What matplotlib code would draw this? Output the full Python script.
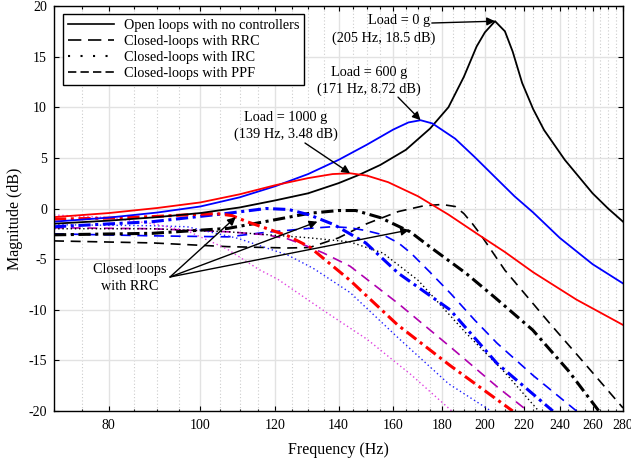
import matplotlib
matplotlib.use("Agg")
import matplotlib.pyplot as plt
from matplotlib.lines import Line2D
from matplotlib.ticker import FixedLocator, NullFormatter

plt.rcParams['font.family'] = ['Liberation Serif', 'DejaVu Serif']

# open loops, no controller
f_ol0 = [70, 80, 90, 100, 110, 120, 130, 140, 147, 155, 165, 175, 183, 190, 196, 200, 205,
         210, 214, 219, 225, 231, 243, 260, 270, 280]
m_ol0 = [-1.5, -1.2, -0.85, -0.45, 0.1, 0.8, 1.5, 2.5, 3.3, 4.3, 5.8, 7.9, 10.0, 13.0, 16.0, 17.4, 18.5,
         17.5, 15.5, 12.4, 9.8, 7.75, 4.8, 1.5, 0.0, -1.3]
f_ol600 = [70, 80, 90, 100, 110, 120, 130, 140, 150, 160, 166, 171, 176, 186, 195, 205,
           215, 225, 240, 260, 280]
m_ol600 = [-1.3, -0.9, -0.4, 0.2, 1.1, 2.2, 3.4, 4.8, 6.3, 7.8, 8.5, 8.72, 8.4, 6.9, 5.1, 3.1,
           1.2, -0.4, -2.9, -5.5, -7.4]
f_ol1000 = [70, 80, 90, 100, 110, 120, 130, 138, 144, 150, 158, 170, 183, 197, 210, 225, 250, 280]
m_ol1000 = [-0.85, -0.45, 0.05, 0.6, 1.4, 2.3, 3.0, 3.4, 3.48, 3.25, 2.6, 1.2, -0.6, -2.6, -4.3,
            -6.3, -9.0, -11.5]

# closed loops with RRC
f_rrc0 = [70, 89, 107, 117, 130.5, 140, 146, 155, 166.7, 175, 191, 205, 224.7, 245, 264]
m_rrc0 = [-2.6, -2.45, -1.96, -1.3, -0.47, -0.2, -0.2, -0.9, -2.3, -3.8, -6.4, -8.8, -12.0, -16.0, -20.0]
f_rrc600 = [70, 89, 107, 117.4, 124, 130.5, 138.5, 149.6, 162, 183.7, 206, 236]
m_rrc600 = [-1.8, -1.3, -0.47, 0.0, -0.1, -0.64, -1.6, -3.4, -6.4, -10.0, -15.3, -20.0]
f_rrc1000 = [70, 80, 89, 98, 104, 108, 112, 117.4, 123.7, 130.5, 144, 161.7, 183.7, 214]
m_rrc1000 = [-1.05, -0.95, -0.8, -0.6, -0.5, -0.7, -1.3, -1.96, -2.7, -3.8, -7.1, -11.5, -15.5, -20.0]

# closed loops with IRC
f_irc0 = [70, 89, 107, 130.5, 144, 156, 170, 191, 210, 228]
m_irc0 = [-2.0, -2.0, -2.3, -2.9, -3.3, -4.4, -7.1, -12.3, -16.2, -20.0]
f_irc600 = [70, 89, 96.8, 109.6, 123.7, 131.6, 144, 162, 183, 203]
m_irc600 = [-1.6, -1.7, -1.8, -2.95, -4.6, -5.9, -8.3, -12.8, -17.3, -20.0]
f_irc1000 = [70, 80, 89, 96.8, 106.7, 115.2, 120.8, 135.6, 150, 167, 184.5]
m_irc1000 = [-0.64, -0.9, -1.5, -2.2, -4.0, -6.0, -7.0, -10.2, -12.9, -16.4, -20.0]

# closed loops with PPF
f_ppf0 = [70, 89, 107, 123.7, 130.5, 140, 150, 162, 172, 180, 186, 190, 194, 198, 210, 234, 255, 280]
m_ppf0 = [-3.2, -3.4, -3.77, -3.9, -3.85, -2.9, -1.5, -0.3, 0.25, 0.4, 0.2, -0.5, -1.5, -2.6, -6.1,
          -11.3, -15.3, -19.7]
f_ppf600 = [70, 89, 107, 117.4, 130.5, 138, 144, 150, 156, 162, 167, 175, 184, 195, 206, 225, 250]
m_ppf600 = [-2.5, -2.7, -2.8, -2.35, -1.96, -1.8, -1.9, -2.2, -2.6, -3.4, -4.4, -6.3, -8.4, -11.0,
            -13.3, -16.5, -20.0]
f_ppf1000 = [70, 89, 107, 117.4, 123.7, 128, 135, 144, 162, 184, 206, 222]
m_ppf1000 = [-1.9, -2.0, -2.3, -2.6, -3.0, -3.5, -4.4, -5.7, -9.4, -13.7, -17.6, -20.0]

x_major = [80, 100, 120, 140, 160, 180, 200, 220, 240, 260, 280]
x_minor = [70, 75, 85, 90, 95, 105, 110, 115, 125, 130, 135, 145, 150, 155, 165, 170, 175,
           185, 190, 195, 205, 210, 215, 225, 230, 235, 245, 250, 255, 265, 270, 275]
y_major = [-20, -15, -10, -5, 0, 5, 10, 15, 20]

legend_labels = ['Open loops with no controllers', 'Closed-loops with RRC',
                 'Closed-loops with IRC', 'Closed-loops with PPF']

fig = plt.figure(figsize=(6.31, 4.62), dpi=100)
ax = fig.add_axes([54 / 631, 1 - 411 / 462, 569 / 631, 405 / 462])
ax.set_xscale('log')

# PPF (dashed)
ax.plot(f_ppf0, m_ppf0, color='k', lw=1.2, dashes=(6, 4))
ax.plot(f_ppf600, m_ppf600, color='#0000ff', lw=1.2, dashes=(6, 4))
ax.plot(f_ppf1000, m_ppf1000, color='#b000b0', lw=1.2, dashes=(6, 4))
# IRC (dotted)
ax.plot(f_irc0, m_irc0, color='k', lw=1.0, dashes=(1, 2))
ax.plot(f_irc600, m_irc600, color='#2020ff', lw=1.0, dashes=(1, 2))
ax.plot(f_irc1000, m_irc1000, color='#e040e0', lw=1.0, dashes=(1, 2))
# RRC (thick dash-dot)
ax.plot(f_rrc0, m_rrc0, color='k', lw=2.2, dashes=(4, 1.5, 1, 1.5))
ax.plot(f_rrc600, m_rrc600, color='#0000ff', lw=2.2, dashes=(4, 1.5, 1, 1.5))
ax.plot(f_rrc1000, m_rrc1000, color='#ff0000', lw=2.2, dashes=(4, 1.5, 1, 1.5))
# open loops
ax.plot(f_ol0, m_ol0, color='k', lw=1.3)
ax.plot(f_ol600, m_ol600, color='#0000ff', lw=1.3)
ax.plot(f_ol1000, m_ol1000, color='#ff0000', lw=1.3)

ax.set_xlim(70, 280)
ax.set_ylim(-20, 20)
ax.xaxis.set_major_locator(FixedLocator(x_major))
ax.xaxis.set_minor_locator(FixedLocator(x_minor))
ax.xaxis.set_minor_formatter(NullFormatter())
ax.set_xticklabels([str(v) for v in x_major])
ax.set_yticks(y_major)
ax.set_yticklabels([str(v) for v in y_major])

ax.grid(which='major', color='#e2e2e2', lw=1.0, ls='-')
ax.grid(which='minor', axis='x', color='#cccccc', lw=0.8, ls=(0, (1, 2)))
ax.set_axisbelow(True)
ax.tick_params(which='both', direction='in', top=True, right=True, width=0.8, labelsize=10)
ax.tick_params(which='major', length=3.6)
ax.tick_params(which='minor', length=1.8)
ax.tick_params(axis='y', pad=5)
ax.tick_params(axis='x', pad=6)
for s in ax.spines.values():
    s.set_linewidth(1.0)

ax.set_xlabel('Frequency (Hz)', fontsize=11.5)
ax.set_ylabel('Magnitude (dB)', fontsize=11.5)
ax.xaxis.set_label_coords(0.5, -0.077)
ax.yaxis.set_label_coords(-0.0545, 0.475)

handles = [Line2D([], [], color='k', lw=1.2),
           Line2D([], [], color='k', lw=1.2, dashes=(8, 4)),
           Line2D([], [], color='k', lw=1.5, dashes=(1, 5)),
           Line2D([], [], color='k', lw=1.2, dashes=(5, 2.5))]
leg = ax.legend(handles, legend_labels, loc='upper left', bbox_to_anchor=(0.0158, 0.98),
                borderaxespad=0, fontsize=10.3, handlelength=3.2, handletextpad=0.7,
                labelspacing=0.2, fancybox=False, framealpha=1, edgecolor='k', borderpad=0.35)
leg.get_frame().set_linewidth(1.0)

arrow = dict(arrowstyle='-|>', color='k', lw=1.0, mutation_scale=12, shrinkA=0, shrinkB=0)
fs = 10.3
ax.text(0.606, 0.963, 'Load = 0 g', transform=ax.transAxes, ha='center', va='center', fontsize=fs)
ax.text(0.579, 0.921, '(205 Hz, 18.5 dB)', transform=ax.transAxes, ha='center', va='center', fontsize=fs)
ax.annotate('', xy=(205, 18.5), xytext=(0.664, 0.958), textcoords='axes fraction', arrowprops=arrow)

ax.text(0.5536, 0.835, 'Load = 600 g', transform=ax.transAxes, ha='center', va='center', fontsize=fs)
ax.text(0.5536, 0.795, '(171 Hz, 8.72 dB)', transform=ax.transAxes, ha='center', va='center', fontsize=fs)
ax.annotate('', xy=(171, 8.72), xytext=(0.6046, 0.775), textcoords='axes fraction', arrowprops=arrow)

ax.text(0.4077, 0.7243, 'Load = 1000 g', transform=ax.transAxes, ha='center', va='center', fontsize=fs)
ax.text(0.4077, 0.684, '(139 Hz, 3.48 dB)', transform=ax.transAxes, ha='center', va='center', fontsize=fs)
ax.annotate('', xy=(144, 3.48), xytext=(0.4411, 0.6617), textcoords='axes fraction', arrowprops=arrow)

ax.text(0.1327, 0.3506, 'Closed loops', transform=ax.transAxes, ha='center', va='center', fontsize=fs)
ax.text(0.1327, 0.3069, 'with RRC', transform=ax.transAxes, ha='center', va='center', fontsize=fs)
for tip in [(109, -0.85), (133, -1.3), (166.3, -2.12)]:
    ax.annotate('', xy=tip, xytext=(0.2039, 0.3309), textcoords='axes fraction', arrowprops=arrow)

fig.savefig('out.png', dpi=100)
